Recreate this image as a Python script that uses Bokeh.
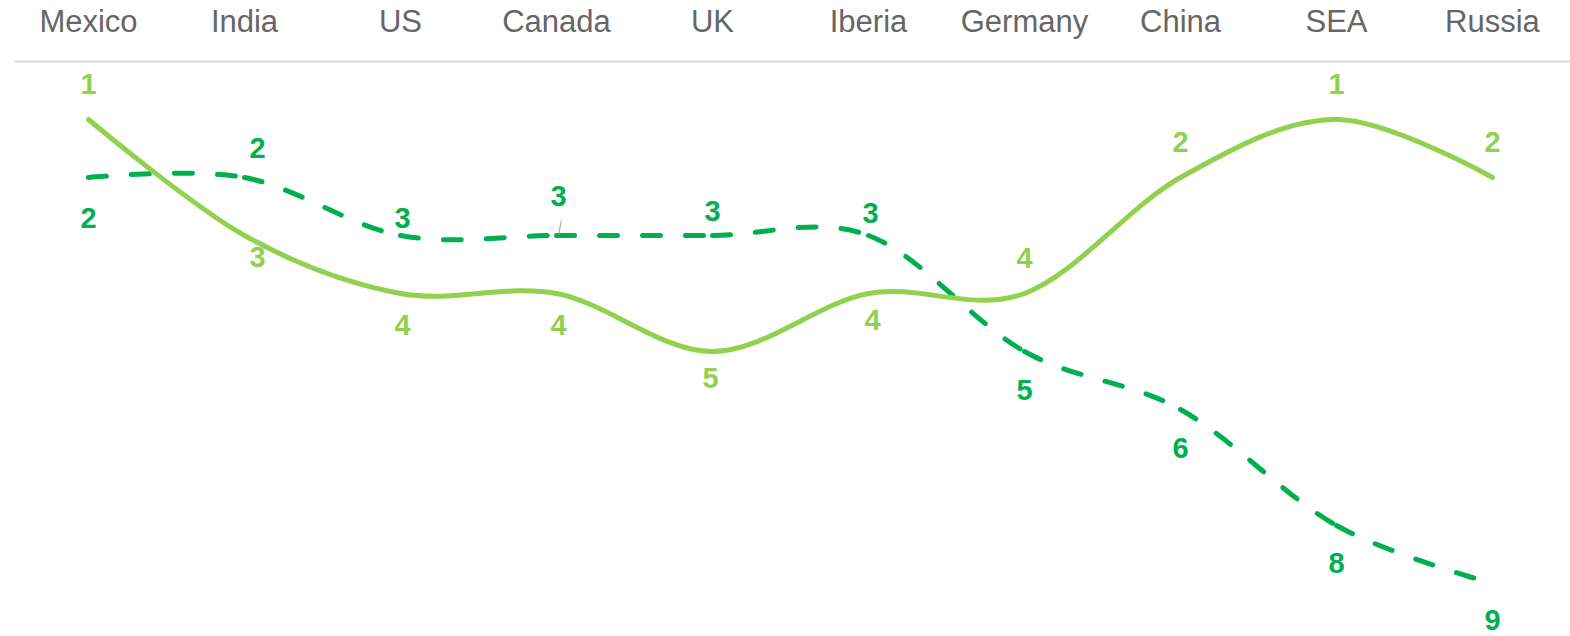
import numpy as np
from bokeh.plotting import figure
from bokeh.models import LinearAxis, FixedTicker, Range1d, Label, ColumnDataSource
from bokeh.embed import file_html
from bokeh.resources import INLINE
from bokeh.core.properties import value

# ---------------- data ----------------
categories = ["Mexico", "India", "US", "Canada", "UK", "Iberia", "Germany", "China", "SEA", "Russia"]
rank_a = [1, 3, 4, 4, 5, 4, 4, 2, 1, 2]   # light green, solid
rank_b = [2, 2, 3, 3, 3, 3, 5, 6, 8, 9]   # dark green, dashed

# ---------------- style / layout ----------------
COL_A = "#92D050"
COL_B = "#00B050"
# data-label offsets in pixels (layout only)
lab_dx_a = [0, 13, 2, 2, -2, 4, 0, 0, 0, 0]
lab_dy_a = [-36, 21, 31, 31, 26, 26, -36, -36, -36, -36]
lab_dx_b = [0, 13, 2, 2, 0, 2, 0, 0, 0, 0]
lab_dy_b = [40, -30, -18, -40, -25, -23, 38, 38, 37, 36]

W, H = 1570, 636
TOP = 61
LEFT = 14


def cardinal_segments(xs, ys, k=1.0 / 6.0):
    """Catmull-Rom (cardinal, tension 0) bezier control points; end controls at the end points."""
    n = len(xs)
    lcx, lcy = list(map(float, xs)), list(map(float, ys))
    rcx, rcy = list(map(float, xs)), list(map(float, ys))
    for i in range(1, n - 1):
        vx = xs[i + 1] - xs[i - 1]
        vy = ys[i + 1] - ys[i - 1]
        lcx[i], lcy[i] = xs[i] - k * vx, ys[i] - k * vy
        rcx[i], rcy[i] = xs[i] + k * vx, ys[i] + k * vy
    return dict(
        x0=list(xs[:-1]), y0=list(ys[:-1]),
        x1=list(xs[1:]), y1=list(ys[1:]),
        cx0=rcx[:-1], cy0=rcy[:-1],
        cx1=lcx[1:], cy1=lcy[1:],
    )


xs = list(range(len(categories)))
px_per_x = 156.0
px_per_rank = 58.0
x0_data = -(88 - LEFT) / px_per_x
x1_data = x0_data + (W - LEFT) / px_per_x
y_top = 1 - (119 - TOP) / px_per_rank
y_bot = y_top + (H - TOP) / px_per_rank

p = figure(width=W, height=H, output_backend="svg", toolbar_location=None,
           x_range=Range1d(x0_data, x1_data), y_range=Range1d(y_bot, y_top),
           x_axis_location=None, y_axis_location=None,
           min_border_left=LEFT, min_border_right=0, min_border_bottom=0, min_border_top=TOP)
p.outline_line_color = None
p.xgrid.visible = False
p.ygrid.visible = False
p.background_fill_color = "white"
p.border_fill_color = "white"

ax = LinearAxis(ticker=FixedTicker(ticks=xs),
                major_label_overrides={i: c for i, c in enumerate(categories)})
ax.axis_line_color = "#D9D9D9"
ax.axis_line_width = 2
ax.major_tick_line_color = None
ax.minor_tick_line_color = None
ax.major_label_text_font = "Liberation Sans"
ax.major_label_text_font_size = "31px"
ax.major_label_text_color = "#666666"
ax.major_label_standoff = 17
p.add_layout(ax, "above")

# lines
seg_a = ColumnDataSource(cardinal_segments(xs, rank_a))
seg_b = ColumnDataSource(cardinal_segments(xs, rank_b))
p.bezier(x0="x0", y0="y0", x1="x1", y1="y1", cx0="cx0", cy0="cy0", cx1="cx1", cy1="cy1",
         source=seg_b, line_color=COL_B, line_width=5, line_dash="18 25", line_cap="round")
p.bezier(x0="x0", y0="y0", x1="x1", y1="y1", cx0="cx0", cy0="cy0", cx1="cx1", cy1="cy1",
         source=seg_a, line_color=COL_A, line_width=5, line_cap="round")

# connector for Canada label (series b)
ci = categories.index("Canada")
p.segment(x0=[xs[ci] + 5 / px_per_x], y0=[rank_b[ci] - 15 / px_per_rank],
          x1=[xs[ci] + 2 / px_per_x], y1=[rank_b[ci] - 1 / px_per_rank],
          line_color="#999999", line_width=1)

# data labels
src_la = ColumnDataSource(dict(x=xs, y=rank_a, t=[str(v) for v in rank_a], dx=lab_dx_a, dy=lab_dy_a))
src_lb = ColumnDataSource(dict(x=xs, y=rank_b, t=[str(v) for v in rank_b], dx=lab_dx_b, dy=lab_dy_b))
for src, col in ((src_la, COL_A), (src_lb, COL_B)):
    p.text(x="x", y="y", text="t", x_offset="dx", y_offset="dy", source=src,
           text_color=col, text_font=value("Liberation Sans"), text_font_style="bold",
           text_font_size="29px", text_align="center", text_baseline="middle")

# clipped fragments at the left edge (screen units from the frame's bottom-left)
p.add_layout(Label(x=6 - LEFT, y=H - 448, x_units="screen", y_units="screen",
                   text="y", text_align="right", text_baseline="alphabetic",
                   text_font="Liberation Sans", text_font_size="29px", text_color="#333333"))
p.add_layout(Label(x=8 - LEFT, y=H - 597, x_units="screen", y_units="screen",
                   text="n", text_align="right", text_baseline="alphabetic",
                   text_font="Liberation Sans", text_font_size="29px", text_color="#CCCCCC"))

open("out.html", "w").write(file_html(p, INLINE))
